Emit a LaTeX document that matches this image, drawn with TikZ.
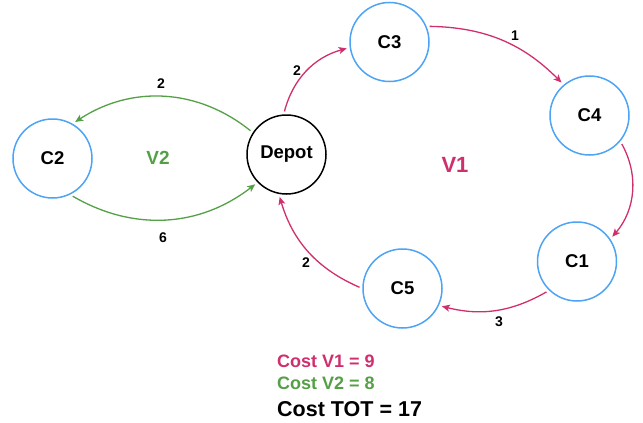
\documentclass[tikz,border=0pt]{standalone}
\usepackage{fontspec}
\setmainfont{Liberation Sans}
\usetikzlibrary{arrows.meta}
\definecolor{custblue}{HTML}{4DA3F4}
\definecolor{vonered}{HTML}{D02F6D}
\definecolor{vtwogreen}{HTML}{53A045}
\tikzset{
    every node/.style={font=\bfseries},
    customer/.style={circle,draw=custblue,line width=1.5pt,minimum size=79pt,inner sep=0pt,font=\fontsize{18.5}{20}\bfseries},
    depot/.style={customer,draw=black},
    weight/.style={font=\fontsize{14}{15}\bfseries},
    route/.style={->,>={Stealth[length=8pt,width=7pt,inset=2pt]},line width=1.3pt,shorten <=3pt,shorten >=3pt},
    vone/.style={route,draw=vonered},
    vtwo/.style={route,draw=vtwogreen},
    cost/.style={anchor=west,inner sep=0pt,font=\fontsize{18}{20}\bfseries}
}
\begin{document}
\begin{tikzpicture}[x=1pt,y=-1pt]
\useasboundingbox (0,0) rectangle (643,423);
\node[depot] (depot) at (286.5,154.5) {Depot};
\foreach \nm/\x/\y in {C1/577/261.5,C2/52.5/158.5,C3/389.5/42,C4/589.5/115.5,C5/402.5/288.5}{
    \node[customer] (\nm) at (\x,\y) {\nm};
}
\draw[vone] (depot.94) to[bend left=30] (C3.188);
\draw[vone] (C3.23) to[bend left=22] (C4.130);
\draw[vone] (C4.-40) to[bend left=35] (C1.34);
\draw[vone] (C1.226) to[bend left=22] (C5.-25);
\draw[vone] (C5.180) to[bend left=25] (depot.-101);
\draw[vtwo] (depot.147) to[bend right=36] (C2.60);
\draw[vtwo] (C2.-64) to[bend right=34] (depot.224);
\foreach \nm/\x/\y/\w in {wa/297/71/2,wb/515/36/1,wc/499/322/3,wd/306/263/2,we/161/84/2,wf/163/238/6}{
    \node[weight] (\nm) at (\x,\y) {\w};
}
\node[text=vtwogreen,font=\fontsize{19}{20}\bfseries] (vtwo) at (158,158) {V2};
\node[text=vonered,font=\fontsize{22}{24}\bfseries] (vone) at (455,165) {V1};
\node[cost,text=vonered] (costone) at (277,361) {Cost V1 = 9};
\node[cost,text=vtwogreen] (costtwo) at (277,383.5) {Cost V2 = 8};
\node[cost,font=\fontsize{21.5}{23}\bfseries] (costtot) at (277,409.5) {Cost TOT = 17};
\end{tikzpicture}
\end{document}
